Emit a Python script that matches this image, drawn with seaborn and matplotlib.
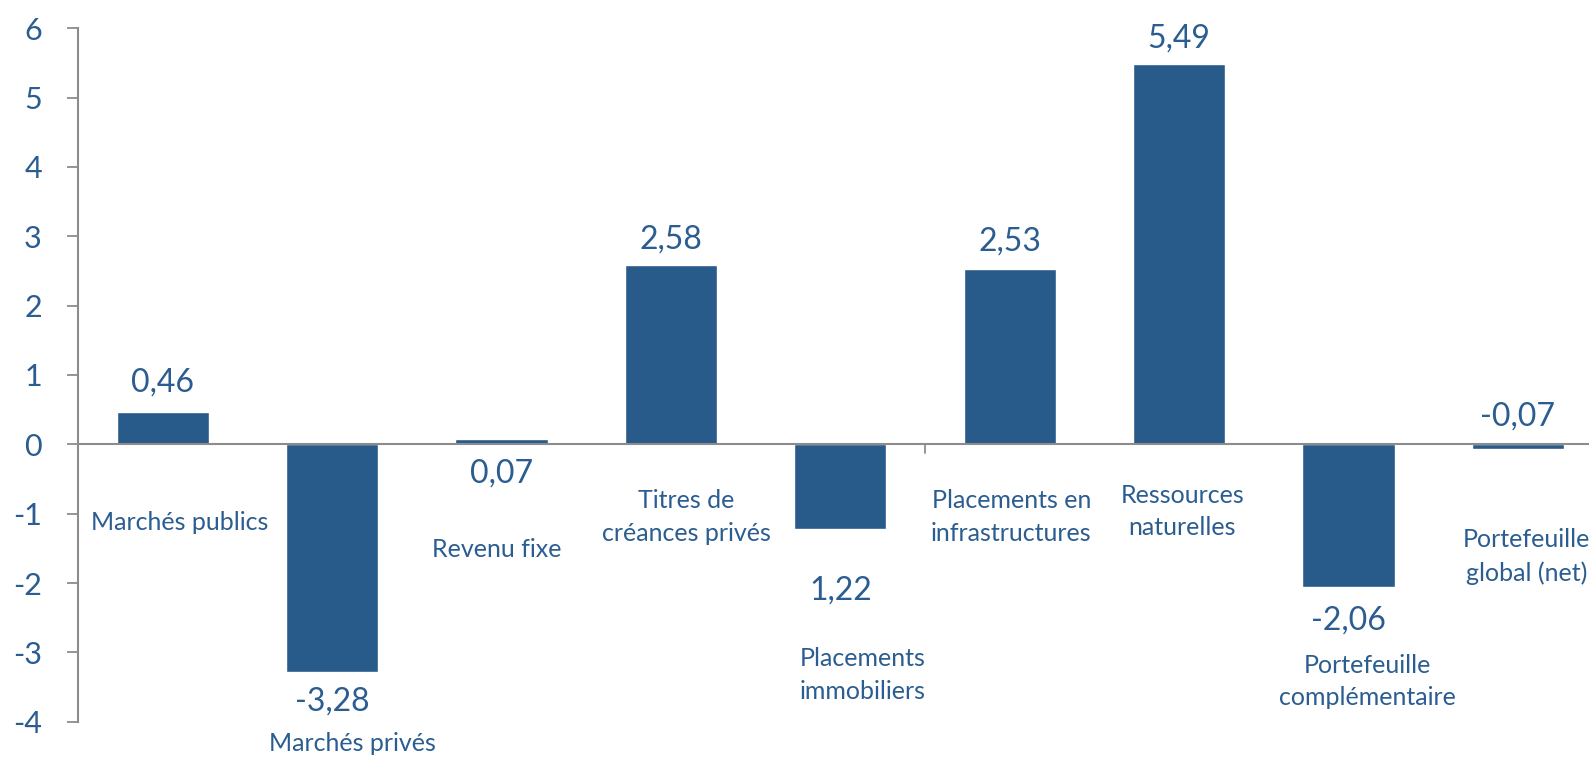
import matplotlib
matplotlib.use("Agg")
import matplotlib.pyplot as plt
import seaborn as sns
import pandas as pd

# chart data
categories = [
    "Marchés publics", "Marchés privés", "Revenu fixe",
    "Titres de\ncréances privés", "Placements\nimmobiliers",
    "Placements en\ninfrastructures", "Ressources\nnaturelles",
    "Portefeuille\ncomplémentaire", "Portefeuille\nglobal (net)",
]
values = [0.46, -3.28, 0.07, 2.58, -1.22, 2.53, 5.49, -2.06, -0.07]
value_labels = ["0,46", "-3,28", "0,07", "2,58", "1,22", "2,53", "5,49", "-2,06", "-0,07"]

# label placement (layout only)
value_label_y = [0.895, -3.71, -0.42, 2.96, -2.11, 2.93, 5.85, -2.54, 0.40]
cat_label_dx = [0.10, 0.12, -0.03, 0.09, 0.13, 0.01, 0.02, 0.11, 0.05]
cat_label_y = [-1.13, -4.31, -1.52, -1.05, -3.33, -1.05, -0.97, -3.42, -1.62]

BAR = "#285A8A"
TXT = "#2B5D91"
GREY = "#8C8C8C"

sns.set_theme(style="white")
plt.rcParams["font.family"] = ["Lato", "DejaVu Sans"]
plt.rcParams["axes.unicode_minus"] = False

df = pd.DataFrame({"cat": categories, "val": values})

fig = plt.figure(figsize=(15.89, 7.57), dpi=100)
ax = fig.add_axes([78 / 1589, 1 - 721.7 / 757, (1589 - 78) / 1589, (721.7 - 28.3) / 757])
sns.barplot(data=df, x="cat", y="val", color=BAR, width=0.545, saturation=1, ax=ax)

ax.set_ylim(-4, 6)
ax.set_xlim(-0.5, 8.42)
ax.set_yticks(range(-4, 7))
ax.set_xticks([])
ax.set_xlabel("")
ax.set_ylabel("")
ax.tick_params(axis="y", left=True, length=8, width=1.3, color=GREY,
               labelsize=22, labelcolor=TXT, pad=18)
for s in ["top", "right", "bottom"]:
    ax.spines[s].set_visible(False)
ax.spines["left"].set_color(GREY)
ax.spines["left"].set_linewidth(1.5)
ax.axhline(0, color=GREY, lw=1.5, zorder=3)
# single category divider tick on the zero line
ax.plot([4.5, 4.5], [0, -0.13], color=GREY, lw=1.3, clip_on=False)

for i, lab in enumerate(value_labels):
    ax.text(i, value_label_y[i], lab, ha="center", va="center",
            fontsize=23, color=TXT)
for i, lab in enumerate(categories):
    ax.text(i + cat_label_dx[i], cat_label_y[i], lab, ha="center", va="center",
            fontsize=18, color=TXT, linespacing=1.5, clip_on=False)

fig.savefig("out.png", dpi=100)
